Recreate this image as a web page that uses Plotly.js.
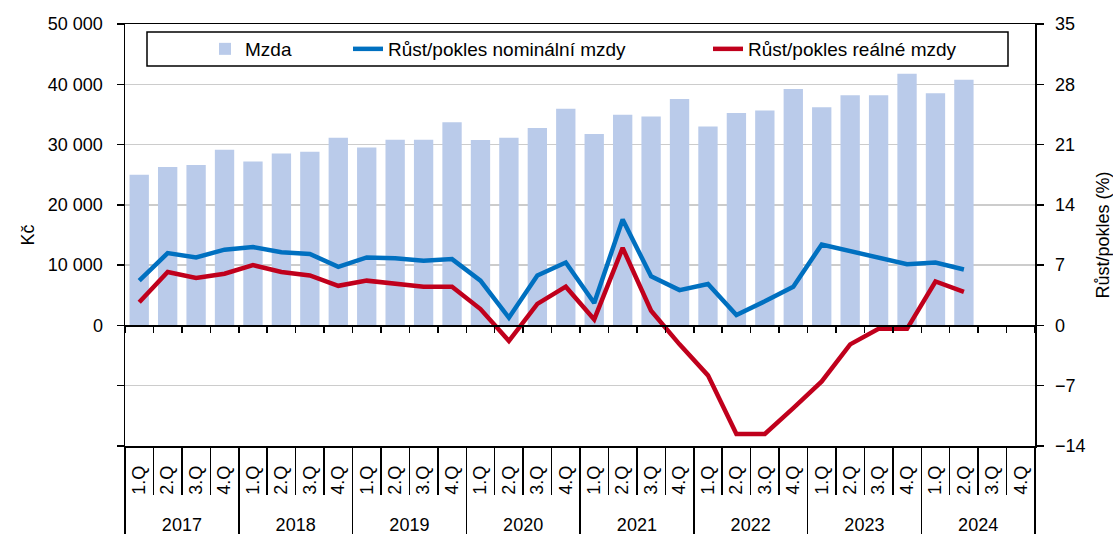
<!DOCTYPE html>
<html>
<head>
<meta charset="utf-8">
<script src="https://cdn.plot.ly/plotly-3.0.1.min.js"></script>
<style>html,body{margin:0;padding:0;background:#fff;}#chart{width:1113px;height:534px;}</style>
</head>
<body>
<div id="chart"></div>
<script>
// ---- data ----
const years = ['2017', '2018', '2019', '2020', '2021', '2022', '2023', '2024'];
const quarters = ['1.Q', '2.Q', '3.Q', '4.Q'];
const wage = [25000, 26300, 26600, 29150, 27200, 28500, 28800, 31150, 29500, 30800, 30800, 33700,
              30750, 31150, 32750, 35950, 31750, 34950, 34650, 37550, 33000, 35250, 35650, 39200,
              36200, 38200, 38200, 41750, 38500, 40750];
const nominal = [5.2, 8.4, 7.9, 8.8, 9.1, 8.5, 8.3, 6.8, 7.9, 7.8, 7.5, 7.7,
                 5.2, 0.9, 5.8, 7.3, 2.6, 12.3, 5.7, 4.1, 4.8, 1.2, 2.8, 4.5,
                 9.4, 8.6, 7.8, 7.1, 7.3, 6.5];
const real = [2.7, 6.2, 5.5, 6.0, 7.0, 6.2, 5.8, 4.6, 5.2, 4.8, 4.5, 4.5,
              1.9, -1.8, 2.5, 4.5, 0.7, 9.0, 1.7, -2.2, -5.8, -12.6, -12.6, -9.6,
              -6.5, -2.2, -0.4, -0.4, 5.1, 3.9];
const kcTicks = [-20000, -10000, 0, 10000, 20000, 30000, 40000, 50000];
const kcTickLabels = ['', '', '0', '10 000', '20 000', '30 000', '40 000', '50 000'];
const pctTicks = [-14, -7, 0, 7, 14, 21, 28, 35];
const names = ['Mzda', 'Růst/pokles nominální mzdy', 'Růst/pokles reálné mzdy'];

// ---- derived ----
const categories = [];
const quarterText = [];
years.forEach(y => quarters.forEach(q => { categories.push(y + ' ' + q); quarterText.push(q); }));
const n = categories.length;
const xs = categories.slice(0, wage.length);
const quarterBounds = Array.from({length: n + 1}, (_, i) => i - 0.5);
const yearBounds = Array.from({length: years.length + 1}, (_, i) => i * quarters.length - 0.5);
const yearCenters = years.map((_, i) => i * quarters.length + (quarters.length - 1) / 2);
const xr = [-0.5, n - 0.5];

const FONT = 'Liberation Sans, Arial, sans-serif';
const dummy = ax => ({type: 'scatter', x: [], y: [], xaxis: ax, yaxis: 'y', showlegend: false, hoverinfo: 'skip'});

const traces = [
  {type: 'bar', x: xs, y: wage, name: names[0], marker: {color: '#BACBEA'}, legend: 'legend'},
  {type: 'scatter', mode: 'lines', x: xs, y: nominal, name: names[1], yaxis: 'y2',
   line: {color: '#0070C0', width: 4.5}, legend: 'legend2'},
  {type: 'scatter', mode: 'lines', x: xs, y: real, name: names[2], yaxis: 'y2',
   line: {color: '#C0001C', width: 4.5}, legend: 'legend3'},
  dummy('x2'), dummy('x3'), dummy('x4'), dummy('x5')
];

const plotL = 125, plotR = 1035, plotT = 24, plotB = 446;
const W = plotR - plotL, H = plotB - plotT;
const px = v => (v - plotL) / W;
const py = v => (plotB - v) / H;

const legendFont = {family: FONT, size: 19, color: '#000'};
const legendBase = {orientation: 'h', yanchor: 'middle', xanchor: 'left', y: py(49),
  bgcolor: 'rgba(0,0,0,0)', borderwidth: 0, font: legendFont};

const layout = {
  width: 1113, height: 534,
  margin: {l: plotL, r: 1113 - plotR, t: plotT, b: 534 - plotB},
  paper_bgcolor: '#fff', plot_bgcolor: '#fff',
  font: {family: FONT, size: 18, color: '#000'},
  separators: ', ',
  bargap: 0.32,
  showlegend: true,
  legend: Object.assign({}, legendBase, {x: px(205)}),
  legend2: Object.assign({}, legendBase, {x: px(348)}),
  legend3: Object.assign({}, legendBase, {x: px(708)}),
  xaxis: {
    type: 'category', categoryorder: 'array', categoryarray: categories, range: xr,
    tickmode: 'array', tickvals: categories, ticktext: quarterText, tickangle: -90,
    ticks: 'outside', ticklen: 11, tickcolor: 'rgba(0,0,0,0)',
    showline: true, mirror: true, linecolor: '#000', linewidth: 1.5,
    showgrid: false, zeroline: false, fixedrange: true
  },
  xaxis2: {
    overlaying: 'x', anchor: 'free', position: 20000 / 70000, range: xr,
    tickmode: 'array', tickvals: quarterBounds, showticklabels: false,
    ticks: 'outside', ticklen: 6, tickwidth: 1.5, tickcolor: '#000',
    showline: true, linecolor: '#000', linewidth: 1.5, showgrid: false, zeroline: false
  },
  xaxis3: {
    overlaying: 'x', anchor: 'free', position: 0, range: xr,
    tickmode: 'array', tickvals: quarterBounds, showticklabels: false,
    ticks: 'outside', ticklen: 48, tickwidth: 1.5, tickcolor: '#000',
    showline: false, showgrid: false, zeroline: false
  },
  xaxis4: {
    overlaying: 'x', anchor: 'free', position: 0, range: xr,
    tickmode: 'array', tickvals: yearBounds, showticklabels: false,
    ticks: 'outside', ticklen: 90, tickwidth: 1.5, tickcolor: '#000',
    showline: false, showgrid: false, zeroline: false
  },
  xaxis5: {
    overlaying: 'x', anchor: 'free', position: 0, range: xr,
    tickmode: 'array', tickvals: yearCenters, ticktext: years,
    ticks: 'outside', ticklen: 62, tickcolor: 'rgba(0,0,0,0)',
    tickfont: {family: FONT, size: 18, color: '#000'},
    showline: false, showgrid: false, zeroline: false
  },
  yaxis: {
    range: [-20000, 50000], tickmode: 'array', tickvals: kcTicks, ticktext: kcTickLabels,
    ticks: 'outside', ticklen: 7, tickwidth: 1.5, tickcolor: '#000', ticklabelstandoff: 10,
    showline: true, linecolor: '#000', linewidth: 1.5,
    showgrid: true, gridcolor: '#cccccc', gridwidth: 1.5, zeroline: false,
    title: {text: 'Kč', standoff: 8, font: {family: FONT, size: 18, color: '#000'}}
  },
  yaxis2: {
    overlaying: 'y', side: 'right', range: [-14, 35], tickmode: 'array', tickvals: pctTicks,
    ticks: 'outside', ticklen: 7, tickwidth: 1.5, tickcolor: '#000', ticklabelstandoff: 8,
    showline: true, linecolor: '#000', linewidth: 1.5, showgrid: false, zeroline: false,
    title: {text: 'Růst/pokles (%)', standoff: 14, font: {family: FONT, size: 18, color: '#000'}}
  },
  shapes: [
    {type: 'rect', xref: 'paper', yref: 'paper', x0: px(147), x1: px(1008), y0: py(66), y1: py(32),
     line: {color: '#000', width: 1.5}, fillcolor: '#fff', layer: 'above'}
  ]
};

Plotly.newPlot('chart', traces, layout, {displayModeBar: false, staticPlot: true});
</script>
</body>
</html>
